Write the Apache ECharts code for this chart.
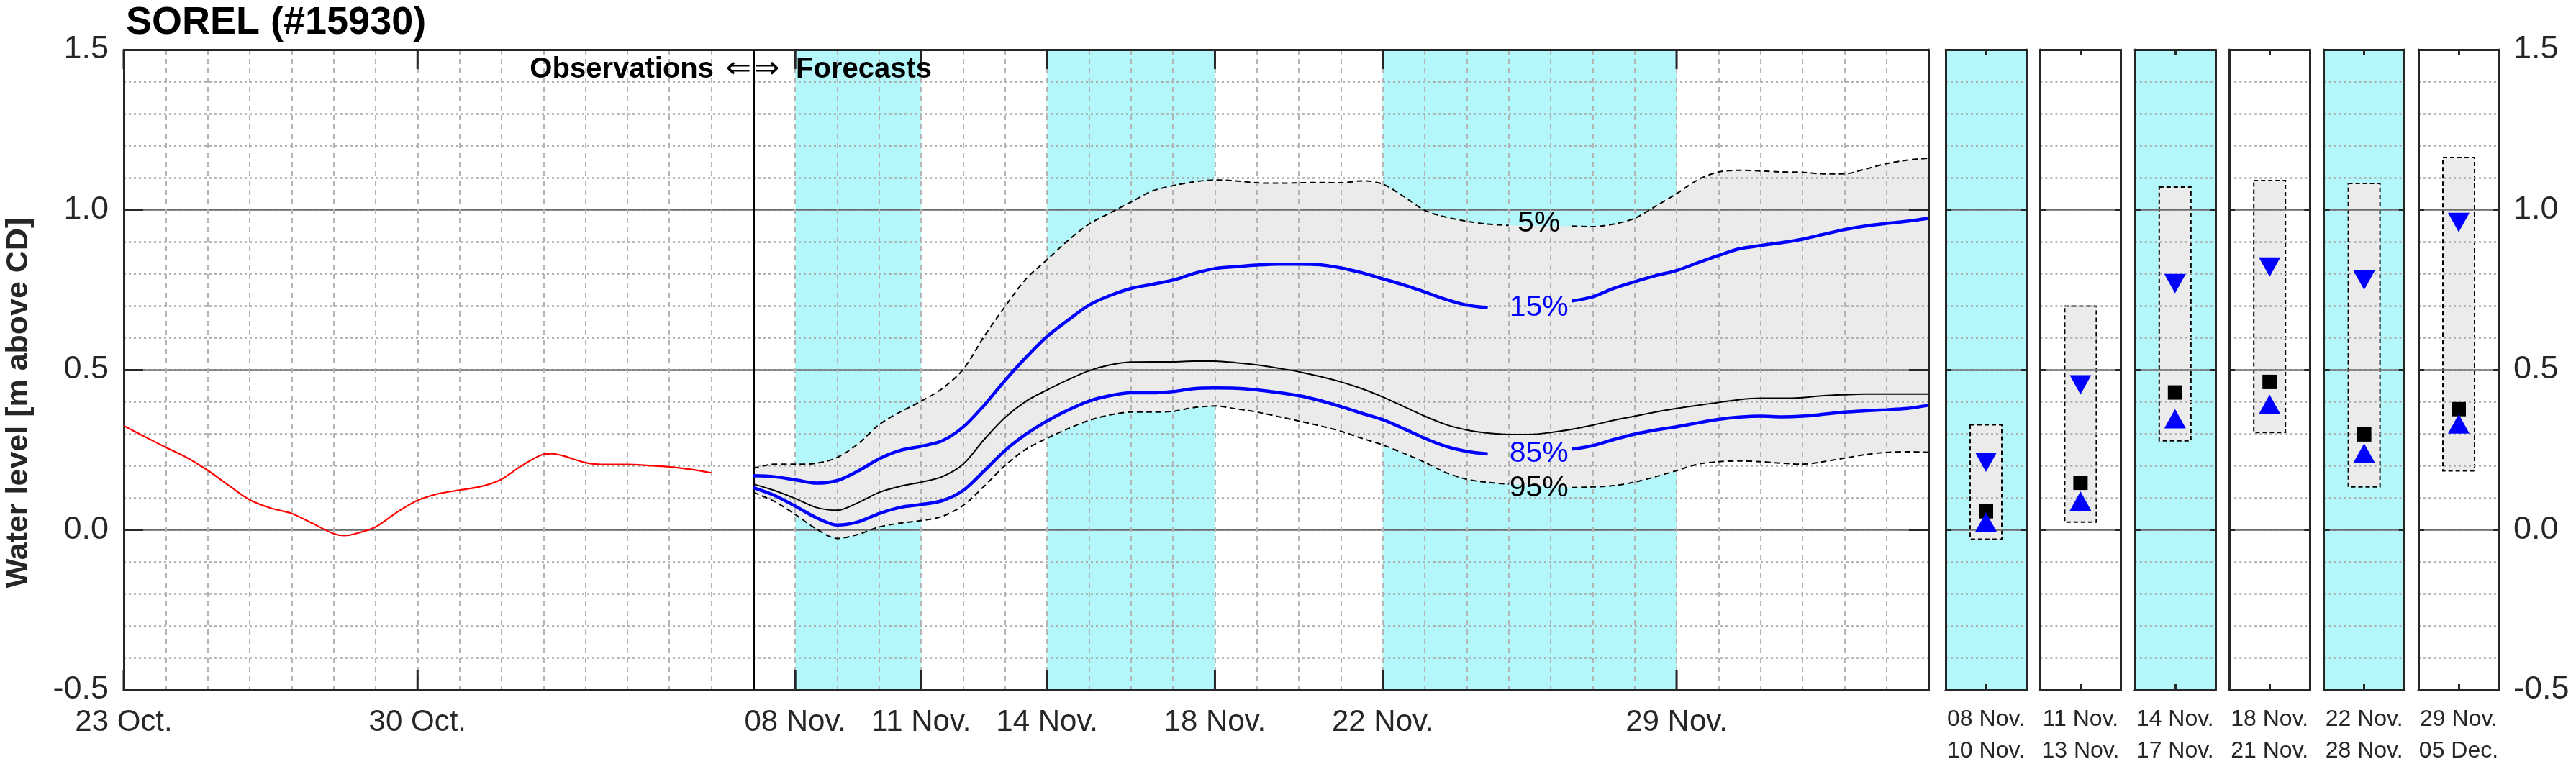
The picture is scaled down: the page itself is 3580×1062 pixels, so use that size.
<!DOCTYPE html>
<html>
<head>
<meta charset="utf-8">
<script src="https://cdn.jsdelivr.net/npm/echarts@6/dist/echarts.min.js"></script>
<style>html,body{margin:0;padding:0;background:#fff}#c{width:3580px;height:1062px}</style>
</head>
<body>
<div id="c"></div>
<script>
// ---------------- DATA (day index: 0 = 23 Oct.) ----------------
const xTickDays   = [0, 7, 16, 19, 22, 26, 30, 37];
const xTickLabels = ['23 Oct.', '30 Oct.', '08 Nov.', '11 Nov.', '14 Nov.', '18 Nov.', '22 Nov.', '29 Nov.'];

const obsTime  = [0, 0.5, 1, 1.5, 2, 2.5, 3, 3.5, 4, 4.5, 5, 5.25, 5.5, 6, 6.5, 7, 7.5, 8, 8.5, 9, 9.5, 10, 10.2, 10.5, 11, 11.5, 12, 12.5, 13, 13.5, 14];
const obsLevel = [0.325, 0.291, 0.258, 0.226, 0.186, 0.139, 0.094, 0.068, 0.051, 0.020, -0.012, -0.018, -0.013, 0.009, 0.054, 0.092, 0.113, 0.124, 0.135, 0.158, 0.202, 0.236, 0.238, 0.230, 0.210, 0.204, 0.204, 0.201, 0.197, 0.189, 0.178];

const forecastStartDay = 15;   // 07 Nov.
const fcTime = [15, 15.5, 16, 16.5, 17, 17.5, 18, 18.5, 19, 19.5, 20, 20.5, 21, 21.5, 22, 22.5, 23, 23.5, 24, 24.5,
                25, 25.5, 26, 26.5, 27, 27.5, 28, 28.5, 29, 29.5, 30, 30.5, 31, 31.5, 32, 32.5, 33, 33.5, 34, 34.5,
                35, 35.5, 36, 36.5, 37, 37.5, 38, 38.5, 39, 39.5, 40, 40.5, 41, 41.5, 42, 42.5, 43];
const fcP05 = [0.192, 0.205, 0.205, 0.208, 0.226, 0.269, 0.329, 0.368, 0.402, 0.441, 0.501, 0.604, 0.698, 0.784, 0.844, 0.904,
               0.955, 0.990, 1.024, 1.058, 1.075, 1.087, 1.093, 1.090, 1.084, 1.083, 1.084, 1.085, 1.084, 1.090, 1.080, 1.041,
               0.998, 0.977, 0.964, 0.955, 0.951, 0.950, 0.949, 0.949, 0.947, 0.955, 0.973, 1.011, 1.050, 1.093, 1.118, 1.123,
               1.121, 1.118, 1.117, 1.112, 1.112, 1.127, 1.144, 1.155, 1.161];
const fcP15 = [0.169, 0.166, 0.156, 0.146, 0.154, 0.184, 0.222, 0.248, 0.261, 0.278, 0.321, 0.389, 0.467, 0.539, 0.604, 0.655,
               0.702, 0.732, 0.754, 0.767, 0.780, 0.801, 0.816, 0.822, 0.827, 0.830, 0.830, 0.828, 0.818, 0.803, 0.784, 0.765,
               0.743, 0.720, 0.702, 0.694, 0.691, 0.693, 0.700, 0.715, 0.728, 0.754, 0.775, 0.794, 0.810, 0.834, 0.857, 0.878,
               0.888, 0.897, 0.908, 0.923, 0.938, 0.949, 0.957, 0.964, 0.973];
const fcP50 = [0.143, 0.123, 0.098, 0.070, 0.061, 0.085, 0.117, 0.136, 0.149, 0.166, 0.205, 0.282, 0.351, 0.402, 0.437, 0.469,
               0.497, 0.515, 0.524, 0.525, 0.525, 0.527, 0.527, 0.522, 0.515, 0.505, 0.494, 0.479, 0.462, 0.441, 0.415, 0.385,
               0.355, 0.329, 0.312, 0.302, 0.298, 0.298, 0.304, 0.314, 0.327, 0.342, 0.355, 0.368, 0.379, 0.389, 0.398, 0.407,
               0.411, 0.411, 0.413, 0.419, 0.422, 0.424, 0.424, 0.424, 0.424];
const fcP85 = [0.132, 0.108, 0.074, 0.038, 0.015, 0.025, 0.051, 0.070, 0.079, 0.091, 0.123, 0.184, 0.248, 0.299, 0.340, 0.374,
               0.402, 0.419, 0.428, 0.428, 0.432, 0.441, 0.443, 0.442, 0.437, 0.429, 0.419, 0.404, 0.385, 0.364, 0.344, 0.316,
               0.286, 0.261, 0.245, 0.237, 0.235, 0.236, 0.240, 0.252, 0.263, 0.282, 0.299, 0.312, 0.322, 0.334, 0.345, 0.352,
               0.355, 0.353, 0.355, 0.361, 0.368, 0.372, 0.375, 0.379, 0.389];
const fcP95 = [0.117, 0.089, 0.048, 0.003, -0.027, -0.014, 0.009, 0.021, 0.029, 0.042, 0.076, 0.136, 0.201, 0.252, 0.286, 0.316,
               0.342, 0.359, 0.368, 0.368, 0.370, 0.382, 0.387, 0.378, 0.368, 0.354, 0.340, 0.325, 0.308, 0.286, 0.265, 0.239,
               0.211, 0.179, 0.158, 0.148, 0.143, 0.140, 0.136, 0.132, 0.134, 0.138, 0.149, 0.166, 0.185, 0.205, 0.213, 0.215,
               0.213, 0.208, 0.205, 0.213, 0.224, 0.235, 0.242, 0.244, 0.242];

const shadedPeriods = [[16, 19], [22, 26], [30, 37]];   // 08-10 Nov, 14-17 Nov, 22-28 Nov

const curveLabels = [
  {text: '5%',  day: 33.72, value: 0.957, color: '#000000'},
  {text: '15%', day: 33.72, value: 0.693, color: '#0000ff'},
  {text: '85%', day: 33.72, value: 0.237, color: '#0000ff'},
  {text: '95%', day: 33.72, value: 0.129, color: '#000000'}
];

const panelLabels = ['08 Nov.\n10 Nov.', '11 Nov.\n13 Nov.', '14 Nov.\n17 Nov.', '18 Nov.\n21 Nov.', '22 Nov.\n28 Nov.', '29 Nov.\n05 Dec.'];
const panelShaded = [true, false, true, false, true, false];
const panelP05 = [0.328, 0.699, 1.071, 1.091, 1.082, 1.163];
const panelP15 = [0.211, 0.453, 0.769, 0.821, 0.780, 0.960];
const panelP50 = [0.058, 0.147, 0.429, 0.462, 0.298, 0.377];
const panelP85 = [0.024, 0.090, 0.347, 0.392, 0.240, 0.331];
const panelP95 = [-0.029, 0.024, 0.278, 0.304, 0.134, 0.184];

// ---------------- STYLE / LAYOUT ----------------
const FONT = "'Liberation Sans', Arial, Helvetica, sans-serif";
const AX = '#262626';
const CYAN = '#b3f7fa';
const BANDGRAY = '#ebebeb';
const YMIN = -0.5, YMAX = 1.5;
const labelGaps = {p05: [33.25, 34.25], p15: [32.75, 34.25], p85: [32.75, 34.25], p95: [33.25, 34.25]};

const labelMap = {};
xTickDays.forEach((d, i) => { labelMap[d] = xTickLabels[i]; });

function gapped(values, gap) {
  return fcTime.map((t, i) => [t, (gap && t > gap[0] && t < gap[1]) ? '-' : values[i]]);
}

const grids = [{left: 172, top: 69, width: 2508, height: 890, show: true, backgroundColor: '#ffffff', borderWidth: 0, containLabel: false, outerBoundsMode: 'none'}];
for (let i = 0; i < 6; i++) {
  grids.push({left: 2704 + i * 131.4, top: 69, width: 112, height: 890, show: true,
              backgroundColor: panelShaded[i] ? CYAN : '#ffffff', borderWidth: 0, containLabel: false, outerBoundsMode: 'none'});
}

const frameLine = {show: true, onZero: false, lineStyle: {color: AX, width: 3}};

const xAxes = [
  {gridIndex: 0, type: 'value', min: 0, max: 43, interval: 1, position: 'bottom', z: 3,
   axisLine: frameLine, axisTick: {show: false},
   axisLabel: {show: true, formatter: v => labelMap[Math.round(v)] || '', fontSize: 42, color: AX, margin: 24,
               fontFamily: FONT, showMinLabel: true, showMaxLabel: true},
   splitLine: {show: true, lineStyle: {color: '#b4b4b4', width: 2, type: [7, 6]}}},
  {gridIndex: 0, type: 'value', min: 0, max: 43, interval: 1, position: 'top', z: 3,
   axisLine: frameLine, axisTick: {show: false}, axisLabel: {show: false}, splitLine: {show: false}}
];
const yAxes = [
  {gridIndex: 0, type: 'value', min: YMIN, max: YMAX, interval: 0.1, position: 'left', z: 2,
   axisLine: {show: false}, axisTick: {show: false}, axisLabel: {show: false},
   splitLine: {show: true, lineStyle: {color: '#a8a8a8', width: 2.5, type: [3, 4]}}},
  {gridIndex: 0, type: 'value', min: YMIN, max: YMAX, interval: 0.5, position: 'left', z: 3,
   axisLine: frameLine, axisTick: {show: true, inside: true, length: 27, lineStyle: {color: AX, width: 3}},
   axisLabel: {show: true, fontSize: 45, margin: 21, color: AX, fontFamily: FONT, formatter: v => v.toFixed(1)},
   splitLine: {show: true, lineStyle: {color: '#6e6e6e', width: 2.5}}},
  {gridIndex: 0, type: 'value', min: YMIN, max: YMAX, interval: 0.5, position: 'right', z: 3,
   axisLine: frameLine, axisTick: {show: true, inside: true, length: 27, lineStyle: {color: AX, width: 3}},
   axisLabel: {show: false}, splitLine: {show: false}}
];

for (let i = 0; i < 6; i++) {
  const g = i + 1;
  xAxes.push({gridIndex: g, type: 'category', data: [panelLabels[i]], position: 'bottom', boundaryGap: true, z: 3,
    axisLine: frameLine, axisTick: {show: true, inside: true, alignWithLabel: true, length: 8, lineStyle: {color: AX, width: 3}},
    axisLabel: {show: true, interval: 0, fontSize: 32, lineHeight: 44, margin: 19, color: AX, fontFamily: FONT},
    splitLine: {show: false}});
  xAxes.push({gridIndex: g, type: 'category', data: [panelLabels[i]], position: 'top', boundaryGap: true, z: 3,
    axisLine: frameLine, axisTick: {show: true, inside: true, alignWithLabel: true, length: 8, lineStyle: {color: AX, width: 3}},
    axisLabel: {show: false}, splitLine: {show: false}});
  yAxes.push({gridIndex: g, type: 'value', min: YMIN, max: YMAX, interval: 0.1, position: 'left', z: 2,
    axisLine: {show: false}, axisTick: {show: false}, axisLabel: {show: false},
    splitLine: {show: true, lineStyle: {color: '#a8a8a8', width: 2.5, type: [3, 4]}}});
  yAxes.push({gridIndex: g, type: 'value', min: YMIN, max: YMAX, interval: 0.5, position: 'left', z: 3,
    axisLine: frameLine, axisTick: {show: true, inside: true, length: 8, lineStyle: {color: AX, width: 3}},
    axisLabel: {show: false}, splitLine: {show: true, lineStyle: {color: '#6e6e6e', width: 2.5}}});
  yAxes.push({gridIndex: g, type: 'value', min: YMIN, max: YMAX, interval: 0.5, position: 'right', z: 3,
    axisLine: frameLine, axisTick: {show: true, inside: true, length: 8, lineStyle: {color: AX, width: 3}},
    axisLabel: {show: i === 5, fontSize: 45, margin: 20, color: AX, fontFamily: FONT, formatter: v => v.toFixed(1)},
    splitLine: {show: false}});
}

const series = [];
// cyan shaded periods in the main panel
series.push({type: 'custom', xAxisIndex: 0, yAxisIndex: 1, z: 1, silent: true, encode: {x: [0, 1]},
  data: shadedPeriods,
  renderItem: (params, api) => {
    const s = api.coord([api.value(0), YMAX]);
    const e = api.coord([api.value(1), YMIN]);
    return {type: 'rect', shape: {x: s[0], y: s[1], width: e[0] - s[0], height: e[1] - s[1]}, style: {fill: CYAN}};
  }});
// 5%-95% band as one polygon
series.push({type: 'custom', xAxisIndex: 0, yAxisIndex: 1, z: 1, silent: true, encode: {x: 0, y: [1, 2]},
  data: fcTime.map((t, i) => [t, fcP05[i], fcP95[i]]),
  renderItem: (params, api) => {
    if (params.dataIndex !== 0) return null;
    const upper = fcTime.map((t, i) => api.coord([t, fcP05[i]]));
    const lower = fcTime.map((t, i) => api.coord([t, fcP95[i]])).reverse();
    return {type: 'polygon', shape: {points: upper.concat(lower), smooth: 0}, style: {fill: BANDGRAY}};
  }});
// observations
series.push({type: 'line', xAxisIndex: 0, yAxisIndex: 1, z: 5, silent: true, symbol: 'none', smooth: 0.3,
  lineStyle: {color: '#ff0000', width: 2.2},
  data: obsTime.map((t, i) => [t, obsLevel[i]]),
  markLine: {silent: true, symbol: ['none', 'none'], label: {show: false},
             lineStyle: {color: '#000000', width: 3, type: 'solid'}, data: [{xAxis: forecastStartDay}]}});
// forecast percentiles
const lineDefs = [
  {v: fcP05, gap: labelGaps.p05, style: {color: '#000000', width: 2, type: [8, 5]}},
  {v: fcP95, gap: labelGaps.p95, style: {color: '#000000', width: 2, type: [8, 5]}},
  {v: fcP50, gap: null,          style: {color: '#000000', width: 2}},
  {v: fcP15, gap: labelGaps.p15, style: {color: '#0000ff', width: 4.5}},
  {v: fcP85, gap: labelGaps.p85, style: {color: '#0000ff', width: 4.5}}
];
lineDefs.forEach(d => series.push({type: 'line', xAxisIndex: 0, yAxisIndex: 1, z: 5, silent: true, symbol: 'none',
  smooth: 0.3, connectNulls: false, lineStyle: d.style, data: gapped(d.v, d.gap)}));
// curve labels
series.push({type: 'scatter', xAxisIndex: 0, yAxisIndex: 1, z: 6, silent: true, symbolSize: 1,
  itemStyle: {color: 'rgba(0,0,0,0)', opacity: 1},
  data: curveLabels.map(c => ({name: c.text, value: [c.day, c.value],
    label: {show: true, position: 'inside', formatter: '{b}', color: c.color, fontSize: 41, fontFamily: FONT}}))});
// major x ticks (top and bottom, inward)
series.push({type: 'custom', xAxisIndex: 0, yAxisIndex: 1, z: 4, silent: true, encode: {x: 0, y: 1},
  data: xTickDays.map(d => [d, 0]),
  renderItem: (params, api) => {
    const b = api.coord([api.value(0), YMIN]);
    const t = api.coord([api.value(0), YMAX]);
    return {type: 'group', children: [
      {type: 'line', shape: {x1: b[0], y1: b[1], x2: b[0], y2: b[1] - 27}, style: {stroke: AX, lineWidth: 3}},
      {type: 'line', shape: {x1: t[0], y1: t[1], x2: t[0], y2: t[1] + 27}, style: {stroke: AX, lineWidth: 3}}]};
  }});
// side panels
for (let i = 0; i < 6; i++) {
  const xi = 2 + 2 * i, yi = 4 + 3 * i;
  series.push({type: 'custom', xAxisIndex: xi, yAxisIndex: yi, z: 1, silent: true, encode: {x: 0, y: [1, 2]},
    data: [[0, panelP05[i], panelP95[i]]],
    renderItem: (params, api) => {
      const top = api.coord([api.value(0), api.value(1)]);
      const bot = api.coord([api.value(0), api.value(2)]);
      return {type: 'rect', shape: {x: top[0] - 22, y: top[1], width: 44, height: bot[1] - top[1]},
              style: {fill: BANDGRAY, stroke: '#000000', lineWidth: 2, lineDash: [6, 4]}};
    }});
  series.push({type: 'scatter', xAxisIndex: xi, yAxisIndex: yi, z: 5, silent: true, symbol: 'rect', symbolSize: [20, 20],
    itemStyle: {color: '#000000', opacity: 1}, data: [[0, panelP50[i]]]});
  series.push({type: 'scatter', xAxisIndex: xi, yAxisIndex: yi, z: 6, silent: true, symbol: 'triangle', symbolSize: [30, 27],
    symbolRotate: 180, itemStyle: {color: '#0000ff', opacity: 1}, data: [[0, panelP15[i]]]});
  series.push({type: 'scatter', xAxisIndex: xi, yAxisIndex: yi, z: 6, silent: true, symbol: 'triangle', symbolSize: [30, 27],
    itemStyle: {color: '#0000ff', opacity: 1}, data: [[0, panelP85[i]]]});
}

const option = {
  animation: false,
  backgroundColor: '#ffffff',
  textStyle: {fontFamily: FONT},
  grid: grids,
  xAxis: xAxes,
  yAxis: yAxes,
  series: series,
  graphic: [
    {type: 'text', x: 175, y: 32, z: 10, style: {text: 'SOREL (#15930)', fontSize: 54, fontWeight: 'bold', fontFamily: FONT,
      fill: '#000000', align: 'left', verticalAlign: 'middle'}},
    {type: 'text', x: 26, y: 560, rotation: Math.PI / 2, z: 10, style: {text: 'Water level [m above CD]', fontSize: 43,
      fontWeight: 'bold', fontFamily: FONT, fill: '#262626', align: 'center', verticalAlign: 'middle'}},
    {type: 'text', x: 992, y: 97, z: 10, style: {text: 'Observations', fontSize: 40, fontWeight: 'bold', fontFamily: FONT,
      fill: '#000000', align: 'right', verticalAlign: 'middle'}},
    {type: 'text', x: 1044, y: 97, z: 10, style: {text: '\u21D0', fontSize: 42, fontFamily: "'DejaVu Sans', sans-serif",
      fill: '#000000', align: 'right', verticalAlign: 'middle'}},
    {type: 'text', x: 1048, y: 97, z: 10, style: {text: '\u21D2', fontSize: 42, fontFamily: "'DejaVu Sans', sans-serif",
      fill: '#000000', align: 'left', verticalAlign: 'middle'}},
    {type: 'text', x: 1106, y: 97, z: 10, style: {text: 'Forecasts', fontSize: 40, fontWeight: 'bold', fontFamily: FONT,
      fill: '#000000', align: 'left', verticalAlign: 'middle'}}
  ]
};

const chart = echarts.init(document.getElementById('c'), null, {renderer: 'canvas', width: 3580, height: 1062});
chart.setOption(option);
</script>
</body>
</html>
